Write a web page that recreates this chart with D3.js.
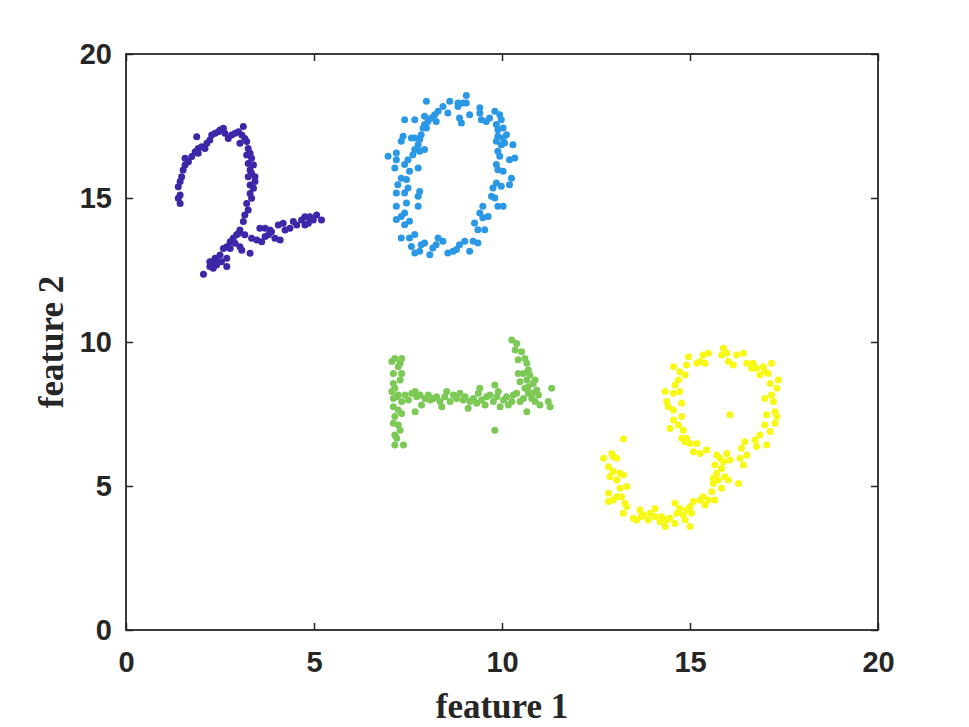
<!DOCTYPE html>
<html><head><meta charset="utf-8">
<script src="https://cdn.jsdelivr.net/npm/d3@7"></script>
<style>html,body{margin:0;padding:0;background:#fff;}svg{display:block;}</style>
</head><body>
<svg id="chart" width="969" height="727"></svg>
<script>
const xTicks = [0, 5, 10, 15, 20];
const yTicks = [0, 5, 10, 15, 20];
const xLabel = "feature 1";
const yLabel = "feature 2";

const digit2 = [[1.44,14.81],[1.39,14.99],[1.44,15.10],[1.39,15.39],[1.44,15.57],[1.48,15.74],[1.52,15.97],[1.57,16.15],[1.66,16.26],[1.75,16.44],[1.84,16.61],[1.92,16.72],[2.01,16.78],[2.10,16.72],[2.15,16.90],[2.23,17.01],[2.28,17.19],[2.37,17.25],[2.46,17.30],[2.50,17.36],[2.59,17.42],[2.63,17.25],[2.72,17.07],[2.81,17.19],[2.90,17.25],[2.99,17.30],[3.08,17.19],[3.12,17.48],[3.16,17.07],[3.03,16.90],[3.21,16.96],[3.25,16.72],[3.30,16.55],[3.21,16.49],[3.34,16.38],[3.25,16.20],[3.39,16.15],[3.30,15.97],[3.34,15.86],[3.43,15.74],[3.25,15.74],[3.30,15.45],[3.39,15.34],[3.30,15.16],[3.34,14.99],[3.21,14.81],[3.25,14.58],[3.16,14.41],[3.12,14.18],[3.03,13.89],[2.94,13.72],[2.85,13.60],[2.77,13.48],[2.68,13.31],[2.59,13.25],[2.50,13.02],[2.37,12.91],[2.28,12.79],[2.23,12.62],[2.32,12.56],[2.41,12.67],[2.54,12.79],[2.68,12.91],[2.68,12.62],[2.06,12.35],[1.88,17.13],[2.90,13.43],[3.03,13.31],[3.08,13.19],[3.30,13.08],[2.99,13.77],[3.16,13.72],[3.34,13.60],[3.48,13.54],[3.61,13.48],[3.70,13.66],[3.79,13.72],[3.87,13.83],[3.96,13.60],[4.10,13.54],[4.05,14.06],[4.18,14.12],[4.23,13.89],[4.36,13.95],[4.45,14.18],[4.54,14.06],[4.67,14.24],[4.76,14.06],[4.85,14.12],[4.89,14.35],[4.98,14.24],[5.07,14.41],[5.20,14.24],[4.76,14.35],[3.70,13.95],[3.56,13.95],[3.83,13.89],[1.57,16.38],[1.92,16.55],[3.43,15.57],[2.77,13.25],[2.46,12.79],[2.23,12.79]];

const digit0 = [[9.05,18.56],[8.96,18.30],[9.05,18.30],[8.83,18.30],[8.61,18.36],[8.43,18.18],[8.30,18.01],[8.21,17.89],[8.12,17.78],[7.99,18.36],[7.94,17.84],[8.03,17.66],[7.94,17.55],[7.90,17.43],[7.99,17.43],[8.25,17.66],[8.56,17.95],[8.83,18.18],[8.87,17.78],[8.92,17.60],[9.14,17.89],[9.41,18.13],[9.41,17.95],[9.45,17.72],[9.58,17.66],[9.67,17.78],[9.81,18.01],[9.94,17.89],[9.98,17.72],[9.85,17.55],[9.89,17.37],[10.03,17.43],[10.12,17.20],[10.03,17.08],[9.89,17.14],[9.85,16.97],[9.98,16.85],[10.07,16.91],[10.29,16.85],[9.89,16.62],[9.94,16.45],[10.20,16.33],[10.34,16.39],[9.85,16.16],[9.89,15.98],[10.03,15.93],[10.25,15.69],[10.20,15.46],[9.85,15.52],[9.98,15.41],[9.76,15.35],[9.72,15.06],[9.81,15.00],[10.03,14.71],[9.89,14.71],[9.49,14.71],[9.63,14.36],[9.49,14.31],[9.41,14.48],[9.27,14.13],[9.36,13.90],[9.54,13.90],[9.23,13.50],[9.36,13.44],[9.14,13.15],[9.01,13.50],[8.87,13.38],[8.79,13.21],[8.70,13.15],[8.56,13.09],[8.43,13.50],[8.30,13.61],[8.25,13.38],[8.16,13.26],[8.08,13.03],[7.94,13.44],[7.85,13.38],[7.81,13.15],[7.68,13.09],[7.59,13.32],[7.54,13.61],[7.68,13.73],[7.32,13.61],[7.41,14.07],[7.54,14.19],[7.32,14.36],[7.19,14.25],[7.41,14.48],[7.19,14.71],[7.46,14.83],[7.19,15.17],[7.41,15.17],[7.50,15.35],[7.23,15.46],[7.32,15.69],[7.46,15.64],[7.54,15.93],[7.41,16.16],[7.15,16.04],[7.19,16.33],[6.97,16.45],[7.19,16.56],[7.50,16.33],[7.63,16.50],[7.68,16.68],[7.81,16.62],[7.94,16.68],[7.77,16.85],[7.81,17.03],[7.68,17.08],[7.59,17.08],[7.37,17.14],[7.32,16.97],[7.85,17.20],[7.41,17.72],[7.68,17.72],[7.77,16.04],[7.77,14.71],[7.77,15.06],[7.81,15.23]];

const digit1 = [[7.07,9.32],[7.15,9.43],[7.33,9.43],[7.29,9.26],[7.24,9.14],[7.11,8.91],[7.33,8.91],[7.29,8.68],[7.11,8.56],[7.07,8.28],[7.15,8.39],[7.24,8.16],[7.11,8.04],[7.33,7.93],[7.11,7.75],[7.24,7.64],[7.33,7.52],[7.15,7.41],[7.11,7.18],[7.24,7.12],[7.29,6.94],[7.15,6.77],[7.20,6.66],[7.15,6.42],[7.38,6.42],[7.20,8.10],[7.42,8.16],[7.51,7.99],[7.60,8.22],[7.69,8.28],[7.73,8.10],[7.82,8.16],[7.86,7.81],[7.95,8.04],[8.04,8.16],[8.09,7.99],[8.17,8.04],[8.26,8.10],[8.35,7.93],[8.40,7.75],[8.48,8.10],[8.53,8.28],[8.62,7.93],[8.71,8.16],[8.79,8.04],[8.88,8.22],[8.97,7.99],[9.02,8.10],[9.10,7.70],[9.15,7.93],[9.24,8.04],[9.33,7.87],[9.41,8.39],[9.37,8.22],[9.46,7.99],[9.55,7.81],[9.59,8.10],[9.68,8.16],[9.77,7.93],[9.81,8.51],[9.86,8.10],[9.90,8.28],[9.95,7.75],[10.04,7.99],[10.12,8.10],[10.17,7.81],[10.26,7.93],[10.30,8.16],[10.39,8.22],[10.48,7.93],[10.57,8.04],[10.66,7.58],[10.70,8.22],[10.79,8.04],[10.88,7.93],[10.97,8.16],[11.01,7.81],[11.23,7.93],[11.28,7.75],[11.32,8.39],[9.81,6.94],[7.69,7.58],[10.26,10.07],[10.39,9.95],[10.35,9.72],[10.52,9.66],[10.43,9.38],[10.61,9.43],[10.66,9.26],[10.57,8.91],[10.70,9.03],[10.43,8.91],[10.48,8.62],[10.66,8.68],[10.74,8.85],[10.83,8.56],[10.70,8.45],[10.92,8.33],[10.88,8.68],[10.79,8.22],[10.61,8.39]];

const digit9 = [[15.89,9.78],[15.98,9.61],[15.84,9.55],[16.24,9.55],[16.42,9.61],[16.02,9.32],[16.15,9.20],[16.51,9.26],[16.68,9.26],[16.77,9.09],[16.64,9.09],[16.95,9.14],[17.17,9.26],[16.99,8.97],[16.86,8.85],[17.08,8.91],[17.35,8.68],[17.13,8.56],[17.31,8.39],[17.17,8.16],[16.99,8.04],[17.22,7.93],[17.26,7.58],[17.04,7.47],[17.31,7.41],[17.26,7.18],[16.99,7.12],[17.13,6.89],[16.86,6.77],[16.73,6.60],[16.77,6.37],[17.04,6.42],[16.46,6.54],[16.37,6.31],[16.51,6.08],[16.33,5.96],[16.42,5.73],[16.06,7.47],[15.49,9.61],[15.35,9.55],[15.27,9.32],[15.18,9.26],[15.40,9.26],[14.96,9.49],[14.91,9.20],[14.56,9.14],[14.73,8.97],[14.87,8.85],[14.69,8.68],[14.60,8.51],[14.34,8.28],[14.56,8.22],[14.73,8.28],[14.38,7.93],[14.42,7.75],[14.56,7.64],[14.78,7.87],[14.78,7.41],[14.56,7.29],[14.69,7.12],[14.47,7.00],[14.82,6.94],[14.78,6.66],[14.91,6.66],[15.00,6.48],[14.87,6.54],[15.18,6.48],[15.09,6.19],[15.27,6.13],[15.44,6.25],[15.71,6.08],[15.80,5.96],[15.98,6.13],[16.06,5.90],[15.89,5.84],[15.66,5.73],[15.84,5.61],[15.71,5.44],[15.62,5.27],[15.75,5.21],[15.93,5.32],[16.02,5.21],[16.29,5.09],[15.84,4.92],[15.62,5.09],[15.58,4.80],[15.35,4.63],[15.27,4.51],[15.49,4.51],[15.66,4.51],[15.40,4.34],[15.09,4.46],[15.00,4.28],[14.91,4.17],[14.82,3.99],[15.04,4.05],[14.87,3.82],[14.73,4.22],[14.60,4.40],[14.65,4.05],[15.00,3.59],[14.60,3.70],[14.47,3.88],[14.38,3.82],[14.25,3.94],[14.34,3.59],[14.20,3.76],[14.07,3.94],[14.07,4.22],[13.94,4.05],[13.89,3.82],[13.76,3.99],[13.67,4.17],[13.71,3.94],[13.58,3.82],[13.49,3.88],[13.23,4.05],[13.32,4.28],[13.27,4.40],[13.18,4.63],[13.05,4.63],[12.96,4.51],[12.83,4.46],[12.83,4.75],[13.14,4.92],[13.32,4.98],[13.05,5.21],[12.87,5.32],[12.96,5.50],[13.14,5.44],[13.23,5.38],[12.83,5.67],[12.96,6.02],[12.92,6.13],[13.05,5.96],[12.70,5.96],[13.23,6.63]];

const groups = [
  {name: "2", points: digit2, color: "#3e26a8"},
  {name: "0", points: digit0, color: "#2b98e6"},
  {name: "1", points: digit1, color: "#7cc955"},
  {name: "9", points: digit9, color: "#f7f814"}
];

const W = 969, H = 727;
const L = 126, R = 878, T = 54, B = 630;
const svg = d3.select("#chart");
const x = d3.scaleLinear().domain([0, 20]).range([L, R]);
const y = d3.scaleLinear().domain([0, 20]).range([B, T]);
const axisColor = "#262626";

// points
groups.forEach(g => {
  svg.append("g").selectAll("circle").data(g.points).join("circle")
    .attr("cx", d => x(d[0])).attr("cy", d => y(d[1]))
    .attr("r", 3.5).attr("fill", g.color);
});

// axes
const tickLen = 7;
const fontTick = "bold 29px 'Liberation Sans', Arial, sans-serif";
const gx = svg.append("g").attr("transform", `translate(0,${B})`)
  .call(d3.axisBottom(x).tickValues(xTicks).tickSize(-tickLen).tickPadding(21).tickFormat(d3.format("d")));
const gy = svg.append("g").attr("transform", `translate(${L},0)`)
  .call(d3.axisLeft(y).tickValues(yTicks).tickSize(-tickLen).tickPadding(14).tickFormat(d3.format("d")));
const gxt = svg.append("g").attr("transform", `translate(0,${T})`)
  .call(d3.axisTop(x).tickValues(xTicks).tickSize(-tickLen).tickFormat(""));
const gyr = svg.append("g").attr("transform", `translate(${R},0)`)
  .call(d3.axisRight(y).tickValues(yTicks).tickSize(-tickLen).tickFormat(""));
[gx, gy, gxt, gyr].forEach(g => {
  g.select(".domain").remove();
  g.selectAll("line").attr("stroke", axisColor).attr("stroke-width", 1.5);
  g.selectAll("text").attr("fill", axisColor).style("font", fontTick);
});
gx.selectAll("text").attr("dy", "0.71em");
svg.append("rect").attr("x", L).attr("y", T).attr("width", R - L).attr("height", B - T)
  .attr("fill", "none").attr("stroke", axisColor).attr("stroke-width", 1.8);

// axis labels
const fontLabel = "bold 35px 'Liberation Serif', 'Times New Roman', serif";
svg.append("text").attr("x", (L + R) / 2).attr("y", 718).attr("text-anchor", "middle")
  .attr("fill", axisColor).style("font", fontLabel).text(xLabel);
svg.append("text").attr("transform", `translate(63,${(T + B) / 2}) rotate(-90)`).attr("text-anchor", "middle")
  .attr("fill", axisColor).style("font", fontLabel).text(yLabel);
</script>
</body></html>
